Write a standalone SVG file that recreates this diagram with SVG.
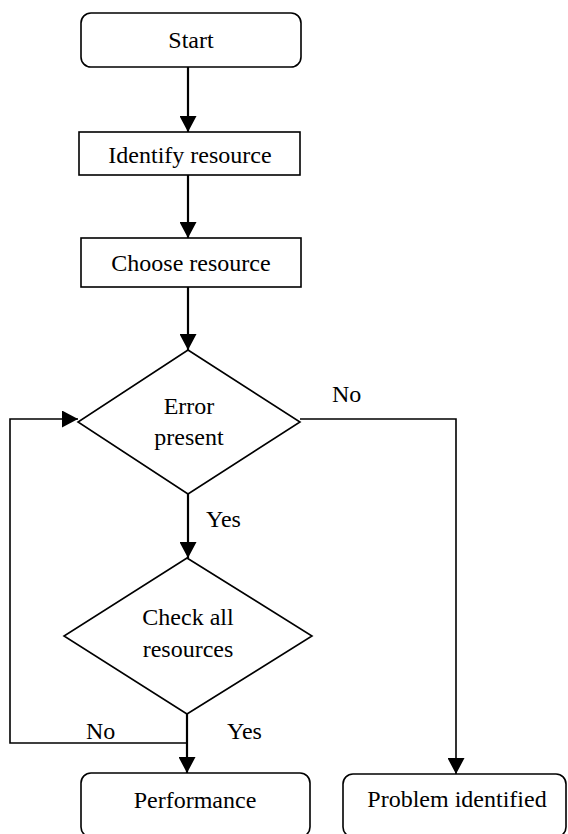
<svg xmlns="http://www.w3.org/2000/svg" width="568" height="834" viewBox="0 0 568 834">
<style>
.box{fill:#fff;stroke:#000;stroke-width:1.6}
.t{font-family:"Liberation Serif","Times New Roman",serif;font-size:24px;fill:#000;text-anchor:middle}
.lbl{font-family:"Liberation Serif","Times New Roman",serif;font-size:24px;fill:#000}
.c{fill:none;stroke:#000;stroke-width:2.2}
.c2{fill:none;stroke:#000;stroke-width:1.6}
</style>
<defs>
<marker id="ah" markerUnits="userSpaceOnUse" markerWidth="17" markerHeight="17" refX="16" refY="8.5" orient="auto" viewBox="0 0 17 17">
<path d="M0,0 L16,8.5 L0,17 Z" fill="#000"/>
</marker>
</defs>
<rect width="568" height="834" fill="#fff"/>
<g id="connectors">
<line class="c" x1="188" y1="67" x2="188" y2="132" marker-end="url(#ah)"/>
<line class="c" x1="188" y1="175" x2="188" y2="238" marker-end="url(#ah)"/>
<line class="c" x1="188" y1="287" x2="188" y2="350" marker-end="url(#ah)"/>
<line class="c" x1="188" y1="494" x2="188" y2="558" marker-end="url(#ah)"/>
<line class="c" x1="187" y1="714" x2="187" y2="773" marker-end="url(#ah)"/>
<path class="c2" d="M187,743 H10 V419 H78" marker-end="url(#ah)"/>
<path class="c2" d="M300,419 H456 V774" marker-end="url(#ah)"/>
<text class="lbl" x="332" y="402">No</text>
<text class="lbl" x="206" y="527">Yes</text>
<text class="lbl" x="86" y="739">No</text>
<text class="lbl" x="227" y="739">Yes</text>
</g>
<g id="start">
<rect class="box" x="81" y="13" width="220" height="54" rx="10"/>
<text class="t" x="191" y="48">Start</text>
</g>
<g id="identify">
<rect class="box" x="79" y="132" width="221" height="43"/>
<text class="t" x="190" y="163">Identify resource</text>
</g>
<g id="choose">
<rect class="box" x="81" y="238" width="220" height="49"/>
<text class="t" x="191" y="271">Choose resource</text>
</g>
<g id="error">
<polygon class="box" points="188,350 300,422 188,494 78,422"/>
<text class="t" x="189" y="414">Error</text>
<text class="t" x="189" y="445">present</text>
</g>
<g id="check">
<polygon class="box" points="187,558 312,636 187,714 64,636"/>
<text class="t" x="188" y="625">Check all</text>
<text class="t" x="188" y="657">resources</text>
</g>
<g id="performance">
<rect class="box" x="81" y="773" width="229" height="64" rx="10"/>
<text class="t" x="195" y="808">Performance</text>
</g>
<g id="problem">
<rect class="box" x="343" y="774" width="223" height="63" rx="10"/>
<text class="t" x="457" y="807">Problem identified</text>
</g>
</svg>
